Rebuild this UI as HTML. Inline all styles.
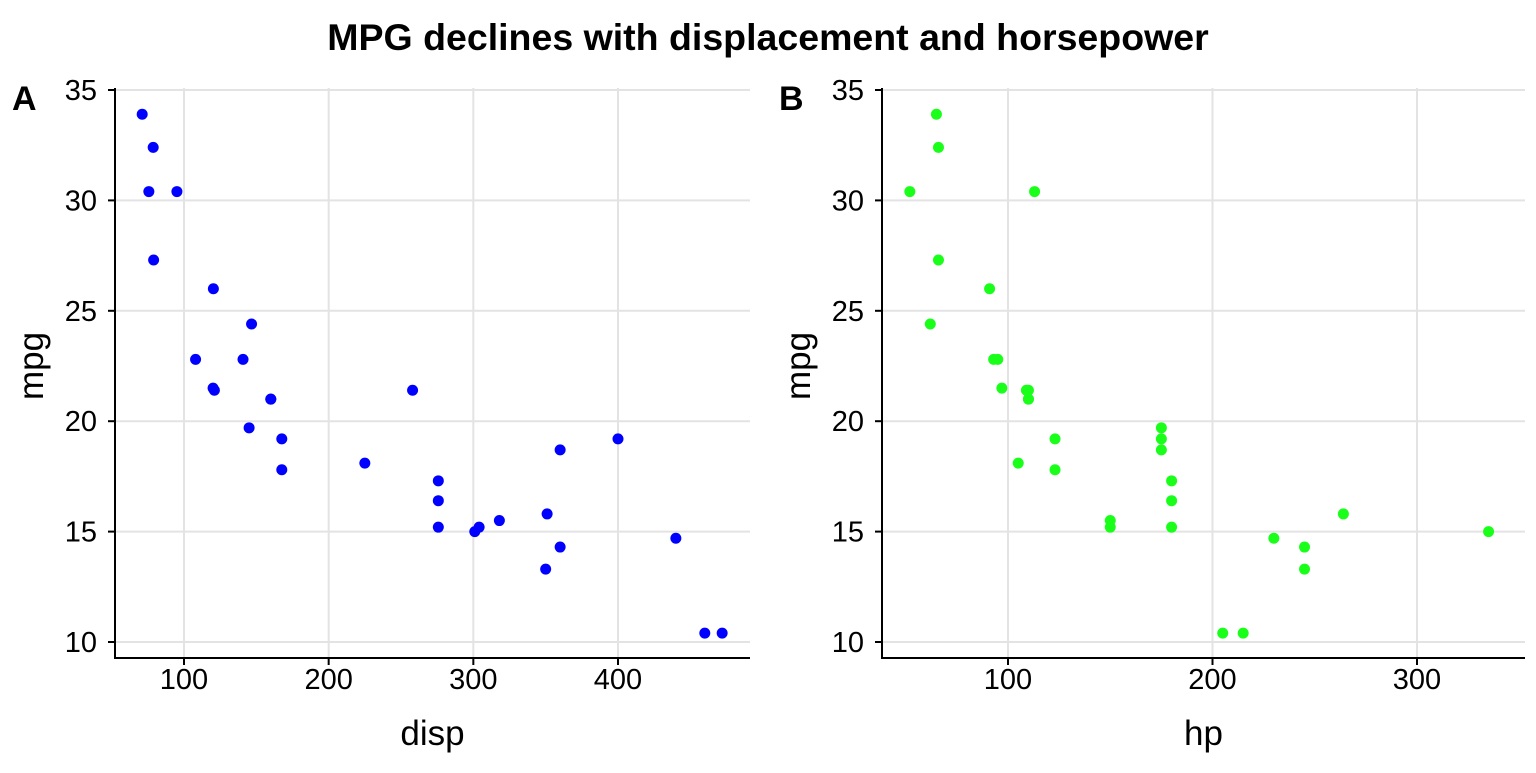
<!DOCTYPE html>
<html><head><meta charset="utf-8"><style>
body{margin:0;background:#fff;}
text{font-family:"Liberation Sans",Arial,sans-serif;}
</style></head><body>
<svg id="chart" width="1536" height="768" xmlns="http://www.w3.org/2000/svg">
<text x="768" y="50" text-anchor="middle" font-size="37.5" font-weight="bold">MPG declines with displacement and horsepower</text>
<g id="pA"></g>
<g id="pB"></g>
</svg>
<script>
const mpg=[21,21,22.8,21.4,18.7,18.1,14.3,24.4,22.8,19.2,17.8,16.4,17.3,15.2,10.4,10.4,14.7,32.4,30.4,33.9,21.5,15.5,15.2,13.3,19.2,27.3,26,30.4,15.8,19.7,15,21.4];
const disp=[160,160,108,258,360,225,360,146.7,140.8,167.6,167.6,275.8,275.8,275.8,472,460,440,78.7,75.7,71.1,120.1,318,304,350,400,79,120.3,95.1,351,145,301,121];
const hp=[110,110,93,110,175,105,245,62,95,123,123,180,180,180,205,215,230,66,52,65,97,150,150,245,175,66,91,113,264,175,335,109];
const yTicks=[10,15,20,25,30,35];
const dispTicks=[100,200,300,400];
const hpTicks=[100,200,300];
const NS="http://www.w3.org/2000/svg";
function mk(p,t,a){const e=document.createElementNS(NS,t);for(const k in a)e.setAttribute(k,a[k]);p.appendChild(e);return e;}
const Y=v=>90+(35-v)*(552/25);
function panel(g,letter,left,right,x0,xScale,xs,xTicks,xname,color){
  const X=v=>x0+(v-100)*xScale;
  const top=88;
  for(const t of yTicks){const l=mk(g,'line',{x1:left,x2:right,y1:Y(t),y2:Y(t),stroke:'#e3e3e3','stroke-width':2});
    
    }
  for(const t of xTicks){const l=mk(g,'line',{x1:X(t),x2:X(t),y1:top,y2:658,stroke:'#e3e3e3','stroke-width':2});
    
    }
  mk(g,'line',{x1:left,x2:left,y1:top,y2:659,stroke:'#000','stroke-width':2});
  mk(g,'line',{x1:left-1,x2:right,y1:658,y2:658,stroke:'#000','stroke-width':2});
  for(const t of yTicks){mk(g,'line',{x1:left-7,x2:left,y1:Y(t),y2:Y(t),stroke:'#000','stroke-width':2});
    const tx=mk(g,'text',{x:left-18,y:Y(t)+10,'text-anchor':'end','font-size':29});tx.textContent=t;
    
    }
  for(const t of xTicks){mk(g,'line',{x1:X(t),x2:X(t),y1:658,y2:665,stroke:'#000','stroke-width':2});
    const tx=mk(g,'text',{x:X(t),y:689,'text-anchor':'middle','font-size':29});tx.textContent=t;
    
    }
  for(let i=0;i<mpg.length;i++){const c=mk(g,'circle',{cx:X(xs[i]),cy:Y(mpg[i]),r:5.5,fill:color});
    
    }
  const xt=mk(g,'text',{x:(left+right)/2,y:745,'text-anchor':'middle','font-size':35});xt.textContent=xname;
  
  
  const yt=mk(g,'text',{x:0,y:0,'text-anchor':'middle','font-size':35,transform:`translate(${left-72},${Y(22.5)}) rotate(-90)`});yt.textContent='mpg';
  
  
  const lt=mk(g,'text',{x:left-103,y:110,'font-size':34,'font-weight':'bold'});lt.textContent=letter;
  
  
}
panel(document.getElementById('pA'),'A',115,750,184,434/300,disp,dispTicks,'disp','#0000ff');
panel(document.getElementById('pB'),'B',882,1525,1008,409/200,hp,hpTicks,'hp','#1aff1a');
</script>
</body></html>
